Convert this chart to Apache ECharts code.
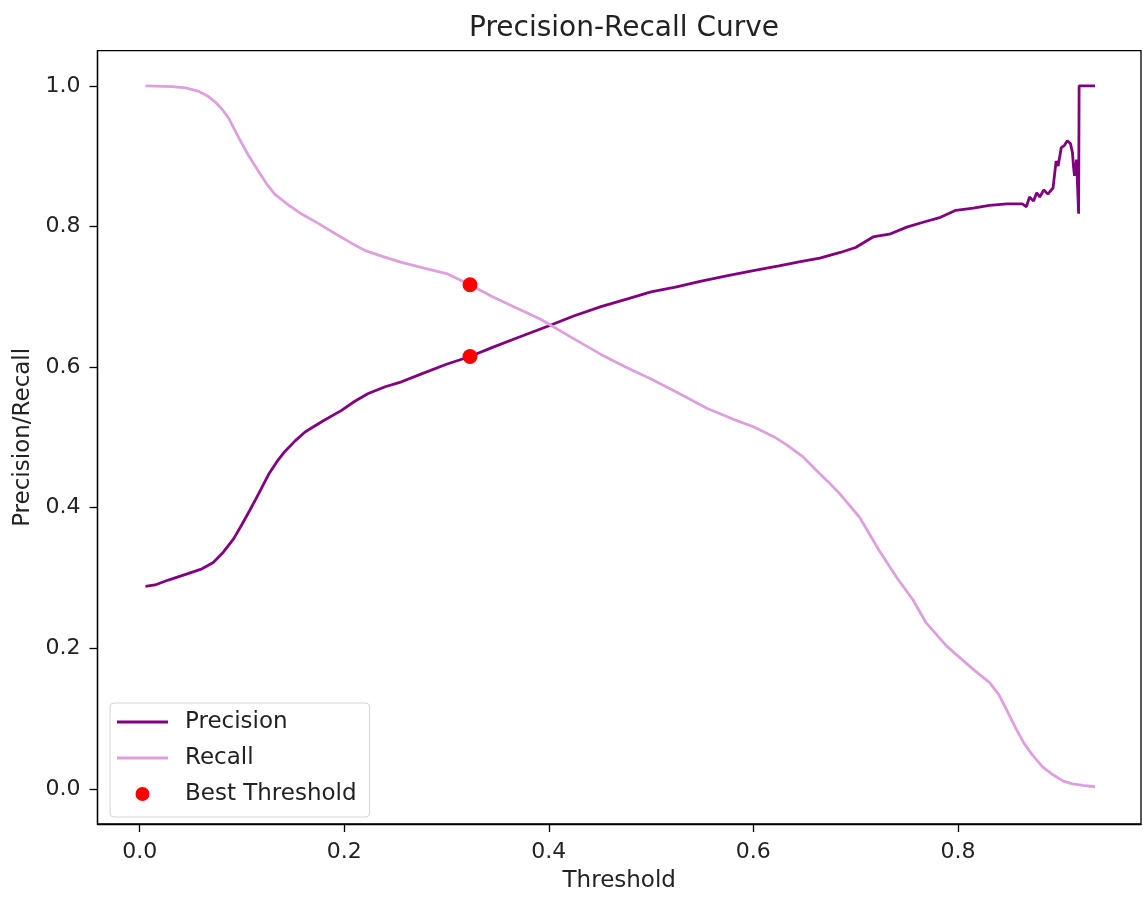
<!DOCTYPE html>
<html>
<head>
<meta charset="utf-8">
<title>Precision-Recall Curve</title>
<script src="https://cdn.jsdelivr.net/npm/echarts@6/dist/echarts.min.js"></script>
<style>
    html, body { margin: 0; padding: 0; background: #fff; }
    #chart-1 { width: 1143px; height: 898px; }
</style>
</head>
<body>
<div id="chart-1"></div>
<script>
"use strict";

// thresholds / values
var precisionX = [0.0057, 0.015, 0.028, 0.045, 0.061, 0.072, 0.082, 0.092, 0.100, 0.108,
    0.116, 0.126, 0.134, 0.142, 0.152, 0.162, 0.180, 0.197, 0.210, 0.223,
    0.240, 0.256, 0.275, 0.300, 0.323, 0.345, 0.370, 0.399, 0.425, 0.451,
    0.477, 0.500, 0.525, 0.548, 0.575, 0.600, 0.625, 0.646, 0.665, 0.685,
    0.700, 0.717, 0.733, 0.750, 0.766, 0.783, 0.798, 0.815, 0.831, 0.848,
    0.863, 0.867, 0.870, 0.874, 0.877, 0.880, 0.884, 0.888, 0.893, 0.896,
    0.898, 0.901, 0.904, 0.907, 0.910, 0.912, 0.913, 0.914, 0.916, 0.918,
    0.9185, 0.934];
var precisionY = [0.288, 0.290, 0.297, 0.305, 0.313, 0.322, 0.337, 0.356, 0.376, 0.397,
    0.419, 0.447, 0.465, 0.480, 0.495, 0.508, 0.524, 0.538, 0.551, 0.562,
    0.572, 0.579, 0.590, 0.604, 0.615, 0.628, 0.642, 0.658, 0.673, 0.686,
    0.697, 0.707, 0.714, 0.722, 0.730, 0.737, 0.744, 0.750, 0.755, 0.763,
    0.770, 0.785, 0.789, 0.799, 0.806, 0.813, 0.823, 0.826, 0.830, 0.832,
    0.832, 0.828, 0.842, 0.836, 0.848, 0.842, 0.852, 0.846, 0.855, 0.893,
    0.886, 0.912, 0.915, 0.922, 0.918, 0.905, 0.885, 0.872, 0.895, 0.818,
    1.000, 1.000];

var recallX = [0.0057, 0.032, 0.045, 0.058, 0.066, 0.074, 0.081, 0.087, 0.097, 0.106,
    0.116, 0.124, 0.132, 0.145, 0.158, 0.175, 0.191, 0.205, 0.220, 0.238,
    0.256, 0.280, 0.300, 0.323, 0.345, 0.370, 0.392, 0.420, 0.451, 0.475,
    0.500, 0.528, 0.555, 0.580, 0.600, 0.620, 0.633, 0.648, 0.661, 0.673,
    0.685, 0.704, 0.723, 0.740, 0.756, 0.769, 0.789, 0.815, 0.831, 0.840,
    0.847, 0.857, 0.865, 0.873, 0.883, 0.893, 0.903, 0.912, 0.922, 0.934];
var recallY = [1.000, 0.999, 0.997, 0.992, 0.986, 0.977, 0.966, 0.954, 0.926, 0.902,
    0.879, 0.861, 0.846, 0.831, 0.818, 0.804, 0.790, 0.778, 0.766, 0.757,
    0.749, 0.740, 0.733, 0.717, 0.700, 0.683, 0.668, 0.644, 0.618, 0.600,
    0.583, 0.562, 0.541, 0.526, 0.515, 0.501, 0.489, 0.473, 0.454, 0.437,
    0.419, 0.386, 0.339, 0.301, 0.269, 0.236, 0.203, 0.170, 0.151, 0.134,
    0.114, 0.085, 0.064, 0.048, 0.031, 0.020, 0.011, 0.007, 0.005, 0.003];

var bestX = [0.323, 0.323];
var bestY = [0.615, 0.717];

var xTicks = [0, 0.2, 0.4, 0.6, 0.8];
var yTicks = [0, 0.2, 0.4, 0.6, 0.8, 1.0];

(function (window, echarts) {
    var chart_1 = echarts.init(document.querySelector("#chart-1"));

    var FONT = "DejaVu Sans";
    var TEXT = "#222";

    // zip x / y arrays into points
    var zip = (xs, ys) => xs.map((x, i) => [x, ys[i]]);
    var fmt = v => v.toFixed(1);

    var axisCommon = {
        type: "value",
        splitLine: { show: false },
        axisLine: { show: true, onZero: false, lineStyle: { color: "#000", width: 1.3 } },
        axisTick: { show: true, inside: false, length: 8, lineStyle: { color: "#000", width: 1.3 } },
        nameLocation: "middle",
        nameTextStyle: { fontFamily: FONT, fontSize: 23, color: TEXT }
    };

    var option = {
        animation: false,
        backgroundColor: "#fff",
        title: {
            text: "Precision-Recall Curve",
            left: 464,
            top: 10,
            textStyle: { fontFamily: FONT, fontSize: 28, fontWeight: "normal", color: TEXT }
        },
        grid: {
            left: 97.5,
            right: 2,
            top: 50.7,
            bottom: 71,
            show: true,
            borderColor: "#000",
            borderWidth: 1.3,
            backgroundColor: "#fff"
        },
        legend: {
            orient: "vertical",
            left: 110,
            top: 703,
            padding: [6, 13, 10, 7],
            itemWidth: 51,
            itemHeight: 14,
            itemGap: 10,
            backgroundColor: "rgba(255,255,255,0.8)",
            borderColor: "#d4d4d4",
            borderWidth: 1,
            borderRadius: 4,
            textStyle: { fontFamily: FONT, fontSize: 23, color: TEXT, lineHeight: 26, padding: [0, 0, 0, 12] },
            data: [
                { name: "Precision", icon: "path://M0,0H50V3H0Z" },
                { name: "Recall", icon: "path://M0,0H50V3H0Z" },
                { name: "Best Threshold", icon: "circle" }
            ]
        },
        xAxis: Object.assign({}, axisCommon, {
            min: -0.0412,
            max: 0.979,
            name: "Threshold",
            nameGap: 46,
            axisTick: Object.assign({}, axisCommon.axisTick, { customValues: xTicks }),
            axisLabel: { customValues: xTicks, formatter: fmt, margin: 17, fontFamily: FONT, fontSize: 22, color: TEXT }
        }),
        yAxis: Object.assign({}, axisCommon, {
            min: -0.05,
            max: 1.05,
            name: "Precision/Recall",
            nameGap: 62,
            nameRotate: 90,
            axisTick: Object.assign({}, axisCommon.axisTick, { customValues: yTicks }),
            axisLabel: { customValues: yTicks, formatter: fmt, margin: 17, fontFamily: FONT, fontSize: 22, color: TEXT }
        }),
        series: [
            {
                name: "Precision",
                type: "line",
                data: zip(precisionX, precisionY),
                showSymbol: false,
                color: "#800080",
                lineStyle: { color: "#800080", width: 2.8 },
                z: 2
            },
            {
                name: "Recall",
                type: "line",
                data: zip(recallX, recallY),
                showSymbol: false,
                color: "#DDA0DD",
                lineStyle: { color: "#DDA0DD", width: 2.8 },
                z: 2
            },
            {
                name: "Best Threshold",
                type: "scatter",
                data: zip(bestX, bestY),
                symbolSize: 15,
                itemStyle: { color: "#ff0000", opacity: 1 },
                z: 3
            }
        ]
    };

    chart_1.setOption(option);
}(window, echarts));
</script>
</body>
</html>
